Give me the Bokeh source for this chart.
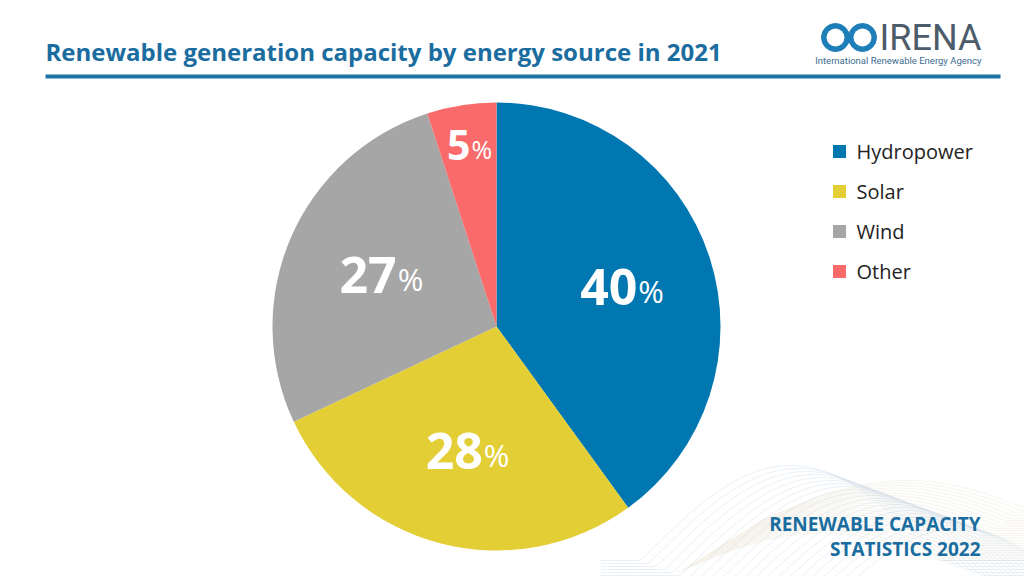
import numpy as np
from bokeh.plotting import figure
from bokeh.models import Range1d, ColumnDataSource
from bokeh.core.properties import value
from bokeh.embed import file_html
from bokeh.resources import INLINE

# ---- data ----
sources = ["Hydropower", "Solar", "Wind", "Other"]
shares = [40, 28, 27, 5]
colors = ["#0077B0", "#E3CF35", "#A6A6A6", "#F96B6B"]
title = "Renewable generation capacity by energy source in 2021"
footer = ["RENEWABLE CAPACITY", "STATISTICS 2022"]

W, H = 1024, 576
p = figure(width=W, height=H, output_backend="svg", toolbar_location=None,
           x_range=Range1d(0, W), y_range=Range1d(0, H), min_border=0)
p.axis.visible = False
p.grid.visible = False
p.outline_line_color = None
p.background_fill_color = "white"
p.border_fill_color = "white"

def Y(y):
    return H - y

# ---- decorative waves (faint) ----
xs_w = np.linspace(600, 1024, 120)
for i in range(22):
    ya = 560 - 95 * np.sin(np.clip((xs_w - 640 - 8 * i) / 300.0, 0, 1) * np.pi) + 3 * i
    p.line(xs_w, Y(ya), line_color="#c9d8e4", line_alpha=0.55, line_width=0.7)
    yb = 520 - 40 * np.sin(np.clip((xs_w - 760 + 4 * i) / 264.0, 0, 1) * np.pi * 0.9) + 2.5 * i
    m = xs_w > 760 - 4 * i
    p.line(xs_w[m], Y(yb[m]), line_color="#d9c9a8", line_alpha=0.35, line_width=0.6)

# ---- pie ----
cx, cy, R = 496, Y(326), 224
vals = np.array(shares, dtype=float)
frac = vals / vals.sum()
cum = np.concatenate([[0], np.cumsum(frac)])
start = np.pi / 2 - 2 * np.pi * cum[:-1]
end = np.pi / 2 - 2 * np.pi * cum[1:]
src = ColumnDataSource(dict(start=start, end=end, color=colors))
p.wedge(x=cx, y=cy, radius=R, radius_units="screen", start_angle="start",
        end_angle="end", direction="clock", fill_color="color", line_color=None,
        source=src)

# ---- slice labels ----
mid = (start + end) / 2
lr = np.where(frac < 0.1, 0.82 * R, 0.575 * R)
lx = cx + lr * np.cos(mid)
ly = cy + lr * np.sin(mid)
nums = [str(v) for v in shares]
fs_num = [41 if f < 0.1 else 50 for f in frac]
wnum = np.array([len(n) * 0.6 * f for n, f in zip(nums, fs_num)])
wpct = np.array([0.75 * f * 0.62 for f in fs_num])
anchor = lx + (wnum - wpct) / 2
lsrc = ColumnDataSource(dict(x=anchor, y=ly, num=nums, pct=["%"] * len(nums),
                             fs=[f"{f}px" for f in fs_num],
                             fs2=[f"{int(f*0.62)}px" for f in fs_num]))
p.text(x="x", y="y", text="num", source=lsrc, text_font=value("Open Sans"),
       text_font_style="bold", text_font_size="fs", text_color="white",
       text_align="right", text_baseline="middle")
p.text(x="x", y="y", text="pct", source=lsrc, text_font=value("Open Sans"),
       text_font_size="fs2", text_color="white", text_align="left",
       text_baseline="middle", x_offset=1, y_offset=4)

# ---- legend ----
leg_y = [Y(151 + 40 * i) for i in range(len(sources))]
p.rect(x=[839] * len(sources), y=leg_y, width=13, height=13, width_units="screen",
       height_units="screen", fill_color=colors, line_color=None)
p.text(x=[856] * len(sources), y=leg_y, text=sources, text_font=value("Open Sans"),
       text_font_size="20px", text_color="#222222", text_baseline="middle")

# ---- title & rule ----
p.text(x=[45], y=[Y(51)], text=[title], text_font=value("Open Sans"),
       text_font_style="bold", text_font_size="24px", text_color="#1B6D9F",
       text_baseline="middle")
p.line(x=[45, 1000], y=[Y(76), Y(76)], line_color="#1F74A8", line_width=4)

# ---- logo ----
p.circle(x=[835, 862], y=[Y(37), Y(37)], radius=14, radius_units="screen",
         fill_color="#1E7FB8", line_color="#1E7FB8")
p.circle(x=[835, 862], y=[Y(37), Y(37)], radius=9, radius_units="screen",
         fill_color="white", line_color=None)
p.text(x=[879], y=[Y(37)], text=["IRENA"], text_font=value("Roboto"),
       text_font_size="36px", text_color="#4d5c6b", text_baseline="middle")
p.text(x=[981], y=[Y(60)], text=["International Renewable Energy Agency"],
       text_font=value("Roboto"), text_font_size="9.5px", text_color="#3d6d90",
       text_align="right", text_baseline="middle")

# ---- footer ----
p.text(x=[980, 980], y=[Y(523), Y(548)], text=footer, text_font=value("Open Sans"),
       text_font_style="bold", text_font_size="19px", text_color="#1B6D9F",
       text_align="right", text_baseline="middle")

open("out.html", "w").write(file_html(p, INLINE))
